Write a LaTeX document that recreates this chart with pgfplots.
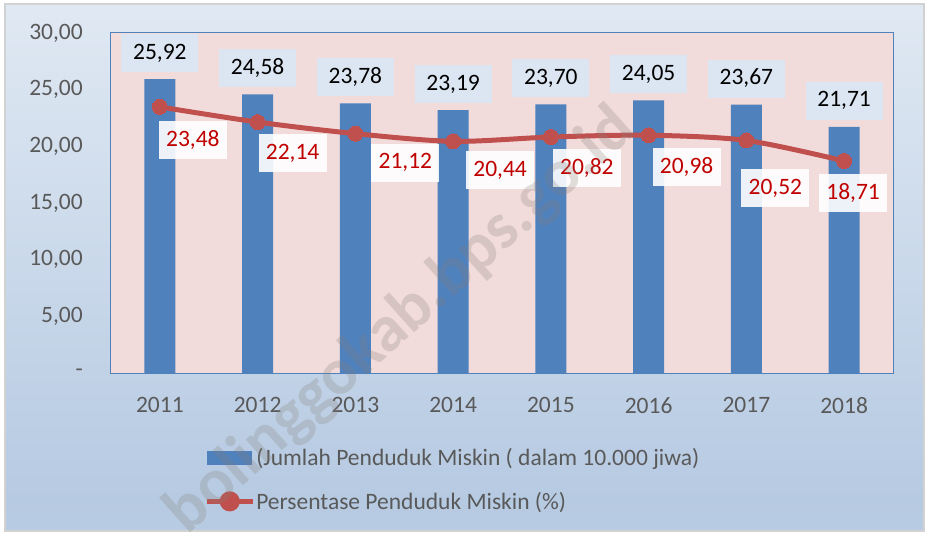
\documentclass[border=0pt]{standalone}
\usepackage{fontspec}
\setmainfont{Carlito}
\usepackage{pgfplots}
\pgfplotsset{compat=1.18}

\definecolor{barblue}{HTML}{4F81BD}
\definecolor{linered}{HTML}{C0504D}
\definecolor{labred}{HTML}{C00000}
\definecolor{plotbg}{HTML}{F2DCDB}
\definecolor{labblue}{HTML}{DCE6F2}
\definecolor{ticktext}{HTML}{595959}
\definecolor{bgtop}{HTML}{F6F9FC}
\definecolor{bgmid}{HTML}{B6CAE2}
\definecolor{bgbot}{HTML}{C6D6EA}
\pgfdeclareverticalshading{chartbg}{100bp}{color(0bp)=(bgbot); color(28bp)=(bgmid); color(100bp)=(bgtop)}

\newcommand{\lab}{\fontsize{23.5}{28}\selectfont}

\begin{document}
\begin{tikzpicture}
\useasboundingbox (-111pt,-163pt) rectangle (818pt,373pt);
\fill[white] (-111pt,-163pt) rectangle (818pt,373pt);
\shade[shading=chartbg] (-106pt,-158pt) rectangle (813pt,369pt);
\draw[gray!35, line width=1.5pt] (-106pt,-158pt) rectangle (813pt,369pt);

\begin{axis}[
    scale only axis,
    width=782pt, height=340pt,
    xmin=-0.5, xmax=7.5,
    ymin=0, ymax=30,
    xtick={0,...,7},
    xticklabels={2011,2012,2013,2014,2015,2016,2017,2018},
    ytick={0,5,...,30},
    yticklabels={-,{5,00},{10,00},{15,00},{20,00},{25,00},{30,00}},
    /pgf/number format/assume math mode=true,
    major tick length=0pt,
    tick label style={font=\lab, text=ticktext, inner sep=0pt},
    yticklabel style={anchor=east, xshift=-28pt},
    xticklabel style={anchor=north, yshift=-24pt},
    axis background/.style={fill=plotbg},
    axis line style={draw=barblue, line width=1pt},
    clip=false,
    legend style={at={(0.119,-0.218)}, anchor=north west, draw=none, fill=none,
        font=\lab, text=ticktext, row sep=23pt, inner sep=0pt,
        nodes={inner sep=1pt}},
    legend cell align=left,
]

\addplot[ybar, bar width=31pt, fill=barblue, draw=none,
    legend image code/.code={\fill[barblue] (0pt,-7pt) rectangle (45pt,7pt);},
    nodes near coords={\pgfmathprintnumber[fixed,fixed zerofill,precision=2,use comma]{\pgfplotspointmeta}},
    every node near coord/.append style={anchor=south, yshift=7pt, fill=labblue,
        minimum width=77pt, minimum height=38pt, inner sep=0pt, font=\lab, text=black},
] coordinates {
    (0,25.92) (1,24.58) (2,23.78) (3,23.19) (4,23.70) (5,24.05) (6,23.67) (7,21.71)
};
\addlegendentry{(Jumlah Penduduk Miskin ( dalam 10.000 jiwa)}

\addplot[linered, line width=5pt, smooth, mark=*, mark size=7.5pt,
    mark options={fill=linered, draw=linered, line width=0pt},
    legend image code/.code={\draw[linered, line width=5pt] (0pt,0pt) -- (46pt,0pt);
        \fill[linered] (23pt,0pt) circle (7.5pt);},
] coordinates {
    (0,23.48) (1,22.14) (2,21.12) (3,20.44) (4,20.82) (5,20.98) (6,20.52) (7,18.71)
};
\addlegendentry{Persentase Penduduk Miskin (\%)}

\tikzset{rl/.style={fill=white, fill opacity=0.9, text opacity=1, text=labred,
    font=\lab, minimum width=68pt, minimum height=38pt, inner sep=0pt}}
\node[rl, xshift=33pt, yshift=-33pt] at (axis cs:0,23.48) {23,48};
\node[rl, xshift=35pt, yshift=-31pt] at (axis cs:1,22.14) {22,14};
\node[rl, xshift=50pt, yshift=-29pt] at (axis cs:2,21.12) {21,12};
\node[rl, xshift=47pt, yshift=-29pt] at (axis cs:3,20.44) {20,44};
\node[rl, xshift=36pt, yshift=-31pt] at (axis cs:4,20.82) {20,82};
\node[rl, xshift=38pt, yshift=-32pt] at (axis cs:5,20.98) {20,98};
\node[rl, xshift=29pt, yshift=-48pt] at (axis cs:6,20.52) {20,52};
\node[rl, xshift=9pt, yshift=-32pt] at (axis cs:7,18.71) {18,71};
\end{axis}

\node[rotate=41.8, text=gray!90!brown, opacity=0.25, font=\fontsize{66}{70}\selectfont\bfseries]
    at (290pt,52pt) {bolinggokab.bps.go.id};
\end{tikzpicture}
\end{document}
